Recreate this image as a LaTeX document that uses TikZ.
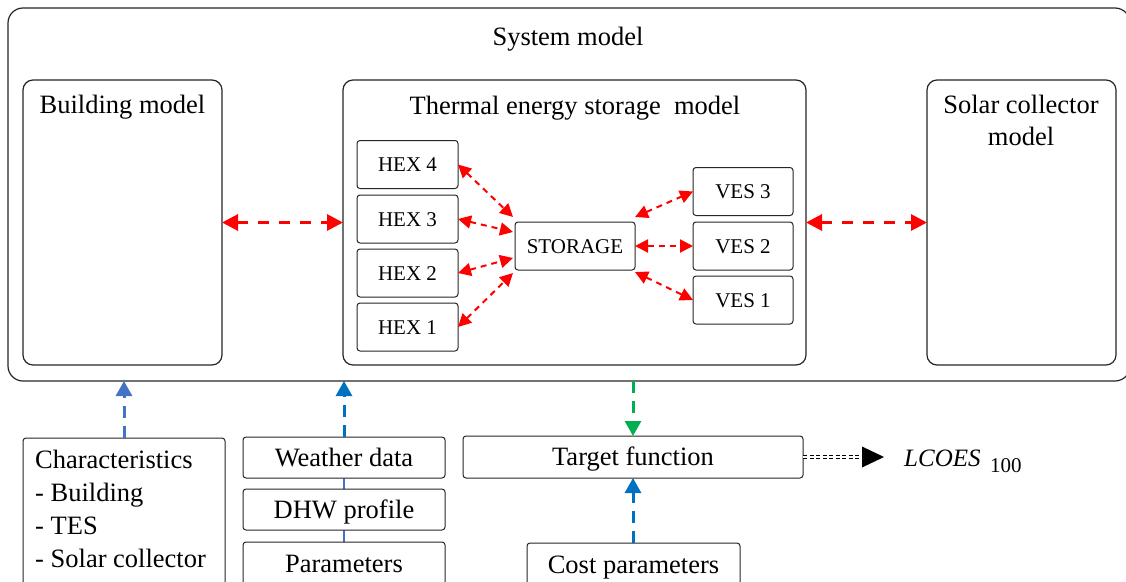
\documentclass[tikz,border=0pt]{standalone}
\usepackage{fontspec}
\setmainfont{LiberationSerif}[Extension=.ttf, UprightFont=*-Regular, ItalicFont=*-Italic, BoldFont=*-Bold, BoldItalicFont=*-BoldItalic]
\usetikzlibrary{arrows.meta,calc}
\definecolor{arrred}{HTML}{FF0000}
\definecolor{bluedark}{HTML}{0070C0}
\definecolor{bluelight}{HTML}{4472C4}
\definecolor{arrgreen}{HTML}{00B050}
\definecolor{edge}{HTML}{262626}
\begin{document}
\begin{tikzpicture}[x=1pt,y=-1pt,
  ttl/.style={font=\rmfamily\fontsize{26.5}{32}\selectfont, inner sep=0pt},
  panel/.style={draw=edge, line width=1.2pt, inner sep=0pt, outer sep=0pt, fill=white},
  sbox/.style={draw=edge, line width=1pt, rounded corners=3pt, fill=white,
    minimum width=101pt, minimum height=48pt, inner sep=0pt, outer sep=0pt,
    font=\rmfamily\fontsize{21}{24}\selectfont, text height=14pt, text depth=0pt},
  bbox/.style={draw=edge, line width=1pt, rounded corners=3pt, fill=white,
    inner sep=0pt, outer sep=0pt,
    font=\rmfamily\fontsize{26.5}{32}\selectfont, text height=17.5pt, text depth=0pt},
  redbig/.style={arrred, line width=3pt, dash pattern=on 11pt off 10pt,
    {Triangle[length=16pt,width=16pt]}-{Triangle[length=16pt,width=16pt]}},
  redsmall/.style={arrred, line width=2pt, dash pattern=on 6pt off 5pt,
    {Triangle[length=13pt,width=13pt]}-{Triangle[length=13pt,width=13pt]}},
  flow/.style={line width=3pt, dash pattern=on 12pt off 8pt,
    -{Triangle[length=15pt,width=16pt]}},
]
\path[use as bounding box] (0,0) rectangle (1126,581);
\clip (0,0) rectangle (1126,581);

% system frame and its three sub-models
\node[panel, rounded corners=15pt, minimum width=1122pt, minimum height=373pt] (sys) at (569,194.5) {};
\node[ttl, anchor=base] (systitle) at (568,45) {System model};

\node[panel, rounded corners=10pt, minimum width=199pt, minimum height=285pt] (bld) at (122.5,222.5) {};
\node[ttl, anchor=base] (bldtitle) at (122.5,113) {Building model};

\node[panel, rounded corners=10pt, minimum width=463pt, minimum height=285pt] (tes) at (574.5,222.5) {};
\node[ttl, anchor=base] (testitle) at (575,114) {Thermal energy storage\ \ model};

\node[panel, rounded corners=10pt, minimum width=189pt, minimum height=285pt] (sol) at (1021.5,222.5) {};
\node[ttl, anchor=base] (soltitle1) at (1021,113) {Solar collector};
\node[ttl, anchor=base] (soltitle2) at (1021,145) {model};

% storage components
\node[sbox] (hex4) at (407.5,164.5) {HEX 4};
\node[sbox] (hex3) at (407.5,219) {HEX 3};
\node[sbox] (hex2) at (407.5,273) {HEX 2};
\node[sbox] (hex1) at (407.5,327) {HEX 1};
\node[sbox, minimum width=120pt] (st) at (575,246) {STORAGE};
\node[sbox, minimum width=100pt] (ves3) at (743,191.5) {VES 3};
\node[sbox, minimum width=100pt] (ves2) at (743,246) {VES 2};
\node[sbox, minimum width=100pt] (ves1) at (743,300) {VES 1};

% heat exchangers and vessels coupled to the storage
\draw[redsmall] (hex4.east) -- ($(st.north west)+(-2,-5)$);
\draw[redsmall] (hex3.east) -- ($(st.west)+(-2,-14)$);
\draw[redsmall] (hex2.east) -- ($(st.west)+(-2,12)$);
\draw[redsmall] (hex1.east) -- ($(st.south west)+(-2,3)$);
\draw[redsmall] ($(st.north east)+(0,-5)$) -- (ves3.west);
\draw[redsmall] (st.east) -- (ves2.west);
\draw[redsmall] ($(st.south east)+(0,2)$) -- (ves1.west);

% coupling between the sub-models
\draw[redbig] (bld.east) -- (tes.west);
\draw[redbig] (tes.east) -- (sol.west);

% inputs and output
\node[bbox, minimum width=202pt, minimum height=182pt] (chr) at (124,529) {};
\node[ttl, anchor=base west] (chr1) at (35,468) {Characteristics};
\node[ttl, anchor=base west] (chr2) at (35,501) {- Building};
\node[ttl, anchor=base west] (chr3) at (35,534) {- TES};
\node[ttl, anchor=base west] (chr4) at (35,567) {- Solar collector};

\draw[bluelight, line width=2.5pt] (344,489) -- (344,478);
\draw[bluelight, line width=2.5pt] (344,542) -- (344,530);
\node[bbox, minimum width=202pt, minimum height=41pt] (wea) at (344,457.5) {Weather data};
\node[bbox, minimum width=202pt, minimum height=41pt] (dhw) at (344,509.5) {DHW profile};
\node[bbox, minimum width=202pt, minimum height=44pt] (par) at (344,564) {Parameters};

\node[bbox, minimum width=340pt, minimum height=42pt] (tgt) at (633,457) {Target function};
\node[bbox, minimum width=213pt, minimum height=44pt] (cost) at (633.5,565) {Cost parameters};

\draw[flow, bluelight] (chr.north) -- (chr.north |- sys.south);
\draw[flow, bluedark] (wea.north) -- (wea.north |- sys.south);
\draw[flow, arrgreen] (tgt.north |- sys.south) -- (tgt.north);
\draw[flow, bluedark] (cost.north -| tgt.south) -- (tgt.south);

% result of the target function
\coordinate (lc) at (862,457);
\draw[line width=0.9pt, double distance=2.2pt, dash pattern=on 4pt off 2.5pt] (tgt.east) -- (lc);
\fill (lc) ++(0,-10.5) -- ++(22,10.5) -- ++(-22,10.5) -- cycle;
\node[anchor=base west, inner sep=0pt, font=\rmfamily\fontsize{25}{30}\selectfont\itshape] (lco) at (904,466) {LCOES};
\node[anchor=base west, inner sep=0pt, font=\rmfamily\fontsize{21}{24}\selectfont] (lcosub) at (990,472) {100};
\end{tikzpicture}
\end{document}
